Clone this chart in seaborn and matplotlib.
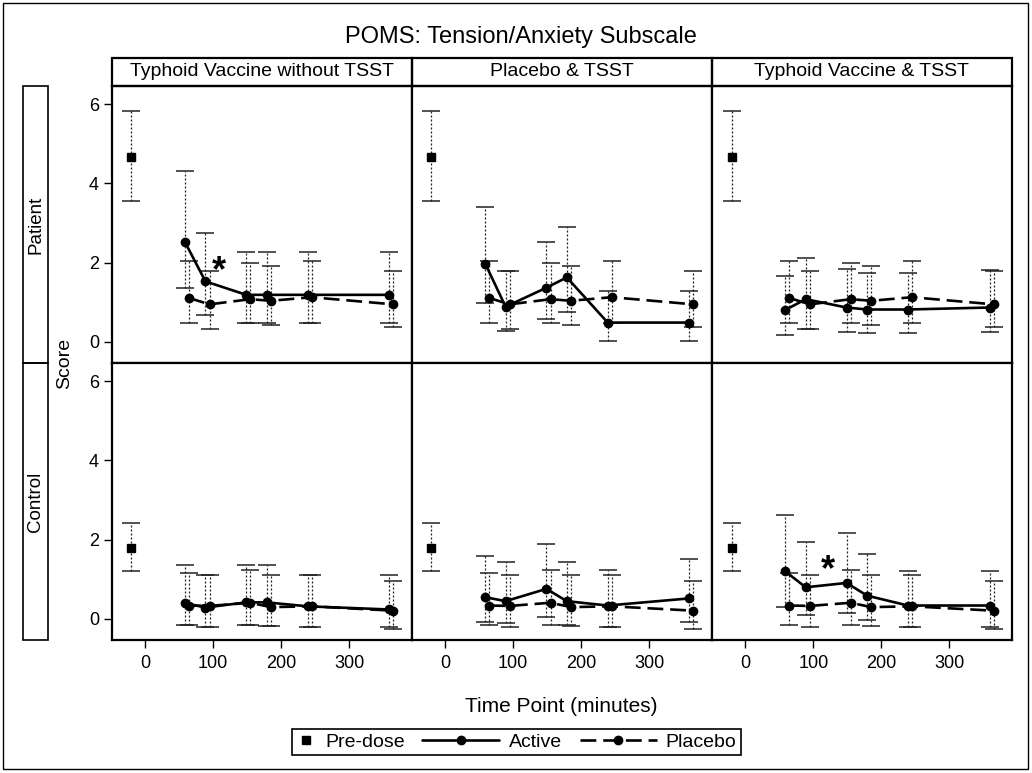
import matplotlib
matplotlib.use("Agg")
import numpy as np
import pandas as pd
import matplotlib.pyplot as plt
from matplotlib.lines import Line2D
from matplotlib.patches import Rectangle
from matplotlib.legend_handler import HandlerBase
import seaborn as sns

# ------------------------------------------------------------------ data
title = "POMS: Tension/Anxiety Subscale"
conditions = ["Typhoid Vaccine without TSST", "Placebo & TSST", "Typhoid Vaccine & TSST"]
groups = ["Patient", "Control"]
time_points = [60, 90, 150, 180, 240, 360]
predose_time = -20
x_ticks = [0, 100, 200, 300]
y_ticks = [0, 2, 4, 6]

# pre-dose (Patient, Control)
predose_mean = [4.68, 1.79]
predose_lower = [3.55, 1.20]
predose_upper = [5.84, 2.41]

# Active series, one panel each
pat_notsst_mean = [2.52, 1.53, 1.19, 1.19, 1.19, 1.19]
pat_notsst_lower = [1.37, 0.67, 0.47, 0.47, 0.47, 0.47]
pat_notsst_upper = [4.31, 2.76, 2.28, 2.28, 2.28, 2.28]

pat_plac_tsst_mean = [1.98, 0.89, 1.37, 1.63, 0.49, 0.49]
pat_plac_tsst_lower = [0.99, 0.28, 0.59, 0.75, 0.03, 0.03]
pat_plac_tsst_upper = [3.40, 1.79, 2.52, 2.89, 1.28, 1.28]

pat_vacc_tsst_mean = [0.81, 1.08, 0.87, 0.82, 0.82, 0.87]
pat_vacc_tsst_lower = [0.18, 0.34, 0.26, 0.22, 0.22, 0.26]
pat_vacc_tsst_upper = [1.67, 2.11, 1.84, 1.75, 1.75, 1.81]

con_notsst_mean = [0.40, 0.29, 0.42, 0.42, 0.32, 0.24]
con_notsst_lower = [-0.15, -0.19, -0.14, -0.17, -0.19, -0.21]
con_notsst_upper = [1.35, 1.11, 1.35, 1.35, 1.11, 1.10]

con_plac_tsst_mean = [0.55, 0.45, 0.76, 0.45, 0.34, 0.52]
con_plac_tsst_lower = [-0.07, -0.11, 0.06, -0.15, -0.19, -0.07]
con_plac_tsst_upper = [1.60, 1.43, 1.90, 1.43, 1.24, 1.52]

con_vacc_tsst_mean = [1.20, 0.80, 0.91, 0.59, 0.34, 0.34]
con_vacc_tsst_lower = [0.31, 0.10, 0.14, -0.03, -0.19, -0.21]
con_vacc_tsst_upper = [2.63, 1.95, 2.17, 1.64, 1.20, 1.20]

# Placebo series (same in every column of a row)
pat_placebo_mean = [1.11, 0.95, 1.08, 1.04, 1.13, 0.95]
pat_placebo_lower = [0.47, 0.34, 0.47, 0.43, 0.47, 0.39]
pat_placebo_upper = [2.04, 1.79, 2.00, 1.92, 2.04, 1.79]

con_placebo_mean = [0.34, 0.33, 0.41, 0.30, 0.32, 0.21]
con_placebo_lower = [-0.14, -0.19, -0.14, -0.17, -0.19, -0.24]
con_placebo_upper = [1.15, 1.11, 1.24, 1.11, 1.11, 0.95]

# significance markers
star_group = ["Patient", "Control"]
star_condition = ["Typhoid Vaccine without TSST", "Typhoid Vaccine & TSST"]
star_time = [109, 121]
star_score = [2.06, 1.52]

# ------------------------------------------------------------------ table
active_sets = {
    ("Patient", conditions[0]): (pat_notsst_mean, pat_notsst_lower, pat_notsst_upper),
    ("Patient", conditions[1]): (pat_plac_tsst_mean, pat_plac_tsst_lower, pat_plac_tsst_upper),
    ("Patient", conditions[2]): (pat_vacc_tsst_mean, pat_vacc_tsst_lower, pat_vacc_tsst_upper),
    ("Control", conditions[0]): (con_notsst_mean, con_notsst_lower, con_notsst_upper),
    ("Control", conditions[1]): (con_plac_tsst_mean, con_plac_tsst_lower, con_plac_tsst_upper),
    ("Control", conditions[2]): (con_vacc_tsst_mean, con_vacc_tsst_lower, con_vacc_tsst_upper),
}
placebo_sets = {
    "Patient": (pat_placebo_mean, pat_placebo_lower, pat_placebo_upper),
    "Control": (con_placebo_mean, con_placebo_lower, con_placebo_upper),
}

records = []
for gi, grp in enumerate(groups):
    for cond in conditions:
        records.append(dict(group=grp, condition=cond, series="Pre-dose", time=predose_time,
                            mean=predose_mean[gi], lower=predose_lower[gi], upper=predose_upper[gi]))
        for name, (m, lo, up) in (("Active", active_sets[(grp, cond)]), ("Placebo", placebo_sets[grp])):
            for t, a, b, c in zip(time_points, m, lo, up):
                records.append(dict(group=grp, condition=cond, series=name, time=t,
                                    mean=a, lower=b, upper=c))
df = pd.DataFrame(records)

# ------------------------------------------------------------------ style
W, H = 1032, 773
def fx(px):
    return px / W
def fy(py):
    return 1 - py / H

sns.set_theme(style="white")
plt.rcParams["font.family"] = ["Liberation Sans", "DejaVu Sans"]
plt.rcParams["text.color"] = "black"
plt.rcParams["axes.labelcolor"] = "black"
plt.rcParams["xtick.color"] = "black"
plt.rcParams["ytick.color"] = "black"

X_SHIFT = {"Pre-dose": 0, "Active": -1, "Placebo": 5}
LINE_STYLE = {
    "Pre-dose": dict(marker="s", ls="none", ms=5.2, color="black"),
    "Active": dict(marker="o", ls="-", lw=1.9, ms=6, color="black"),
    "Placebo": dict(marker="o", ls=(0, (6, 2.6)), lw=1.9, ms=6, color="black"),
}


def draw_panel(data, **kws):
    ax = plt.gca()
    for name in ["Pre-dose", "Placebo", "Active"]:
        sub = data[data["series"] == name].sort_values("time")
        if sub.empty:
            continue
        x = sub["time"].to_numpy() + X_SHIFT[name]
        y = sub["mean"].to_numpy()
        lo = y - sub["lower"].to_numpy()
        hi = sub["upper"].to_numpy() - y
        eb = ax.errorbar(x, y, yerr=[lo, hi], fmt="none", ecolor="#222222",
                         elinewidth=0.9, capsize=6.5, capthick=1.1, zorder=2)
        for lc in eb[2]:
            lc.set_linestyle((0, (1.6, 1.6)))
        ax.plot(x, y, zorder=3 if name != "Active" else 4, **LINE_STYLE[name])


g = sns.FacetGrid(df, row="group", col="condition", row_order=groups, col_order=conditions,
                  sharex=True, sharey=True, despine=False, height=3, aspect=1.1)
g.map_dataframe(draw_panel)
g.set_titles(template="")
g.set_axis_labels("", "")

fig = g.figure
fig.set_size_inches(W / 100, H / 100)

for (ri, ci), ax in np.ndenumerate(g.axes):
    ax.set_xlim(-49, 392)
    ax.set_ylim(-0.53, 6.46)
    ax.set_xticks(x_ticks)
    ax.set_yticks(y_ticks)
    ax.set_title("")
    ax.set_xlabel("")
    ax.set_ylabel("")
    ax.grid(False)
    ax.set_facecolor("white")
    for s in ax.spines.values():
        s.set_linewidth(1.6)
        s.set_color("black")
    ax.tick_params(axis="x", bottom=(ri == 1), labelbottom=(ri == 1), length=6, width=1.0,
                   direction="out", labelsize=13, pad=5)
    ax.tick_params(axis="y", left=(ci == 0), labelleft=(ci == 0), length=6, width=1.0,
                   direction="out", labelsize=13, pad=3)

# significance asterisks
for grp, cond, t, v in zip(star_group, star_condition, star_time, star_score):
    ax = g.axes_dict[(grp, cond)]
    fs = 26
    ax.annotate("*", xy=(t, v), xytext=(0, -0.58 * fs), textcoords="offset points",
                ha="center", va="baseline", fontsize=fs, fontweight="bold", zorder=5)

fig.subplots_adjust(left=fx(111.5), right=fx(1012), top=fy(86), bottom=fy(640),
                    wspace=0, hspace=0)

# column header strips
strip_top = fy(58)
for ci, cond in enumerate(conditions):
    pos = g.axes[0, ci].get_position()
    fig.add_artist(Rectangle((pos.x0, pos.y1), pos.width, strip_top - pos.y1,
                             transform=fig.transFigure, fill=False, lw=1.6, ec="black"))
    fig.text((pos.x0 + pos.x1) / 2, (pos.y1 + strip_top) / 2, cond, ha="center",
             va="center", fontsize=14)

# row label boxes
for ri, grp in enumerate(groups):
    pos = g.axes[ri, 0].get_position()
    fig.add_artist(Rectangle((fx(23), pos.y0), fx(48) - fx(23), pos.height,
                             transform=fig.transFigure, fill=False, lw=1.2, ec="black"))
    fig.text((fx(23) + fx(48)) / 2, (pos.y0 + pos.y1) / 2, grp, rotation=90,
             ha="center", va="center", fontsize=13.5)

# axis labels and title
fig.text(fx(65), fy(363), "Score", rotation=90, ha="center", va="center", fontsize=14)
p0 = g.axes[1, 0].get_position()
p2 = g.axes[1, 2].get_position()
fig.text((p0.x0 + p2.x1) / 2, fy(706), "Time Point (minutes)", ha="center", va="center",
         fontsize=15)
fig.text(fx(521), fy(37), title, ha="center", va="center", fontsize=17)

# outer frame
fig.add_artist(Rectangle((fx(3), fy(769)), fx(1028) - fx(3), fy(3) - fy(769),
                         transform=fig.transFigure, fill=False, lw=1.0, ec="black"))


# legend
class LongLineHandler(HandlerBase):
    def __init__(self, length_pt, linestyle):
        super().__init__()
        self.length_pt = length_pt
        self.linestyle = linestyle

    def create_artists(self, legend, orig_handle, xdescent, ydescent, width, height,
                       fontsize, trans):
        x1 = -xdescent + width
        x0 = x1 - self.length_pt
        y = (height - ydescent) / 2.0
        line = Line2D([x0, x1], [y, y], color="black", lw=1.9, ls=self.linestyle)
        mark = Line2D([(x0 + x1) / 2], [y], marker="o", ls="none", color="black", ms=6)
        line.set_transform(trans)
        mark.set_transform(trans)
        return [line, mark]


h_pre = Line2D([], [], **LINE_STYLE["Pre-dose"])
h_act = Line2D([], [], **LINE_STYLE["Active"])
h_pla = Line2D([], [], **LINE_STYLE["Placebo"])
leg = fig.legend([h_pre, h_act, h_pla], ["Pre-dose", "Active", "Placebo"],
                 loc="upper left", bbox_to_anchor=(fx(292), fy(729)), borderaxespad=0,
                 ncol=3, fontsize=14, handlelength=1.0, handletextpad=0.48,
                 columnspacing=3.87, borderpad=0.22, numpoints=1, frameon=True,
                 fancybox=False, edgecolor="black", framealpha=1,
                 handler_map={h_act: LongLineHandler(55.4, "-"),
                              h_pla: LongLineHandler(55.4, (0, (6, 2.6)))})
leg.get_frame().set_linewidth(1.2)

fig.savefig("out.png", dpi=100, facecolor="white")
